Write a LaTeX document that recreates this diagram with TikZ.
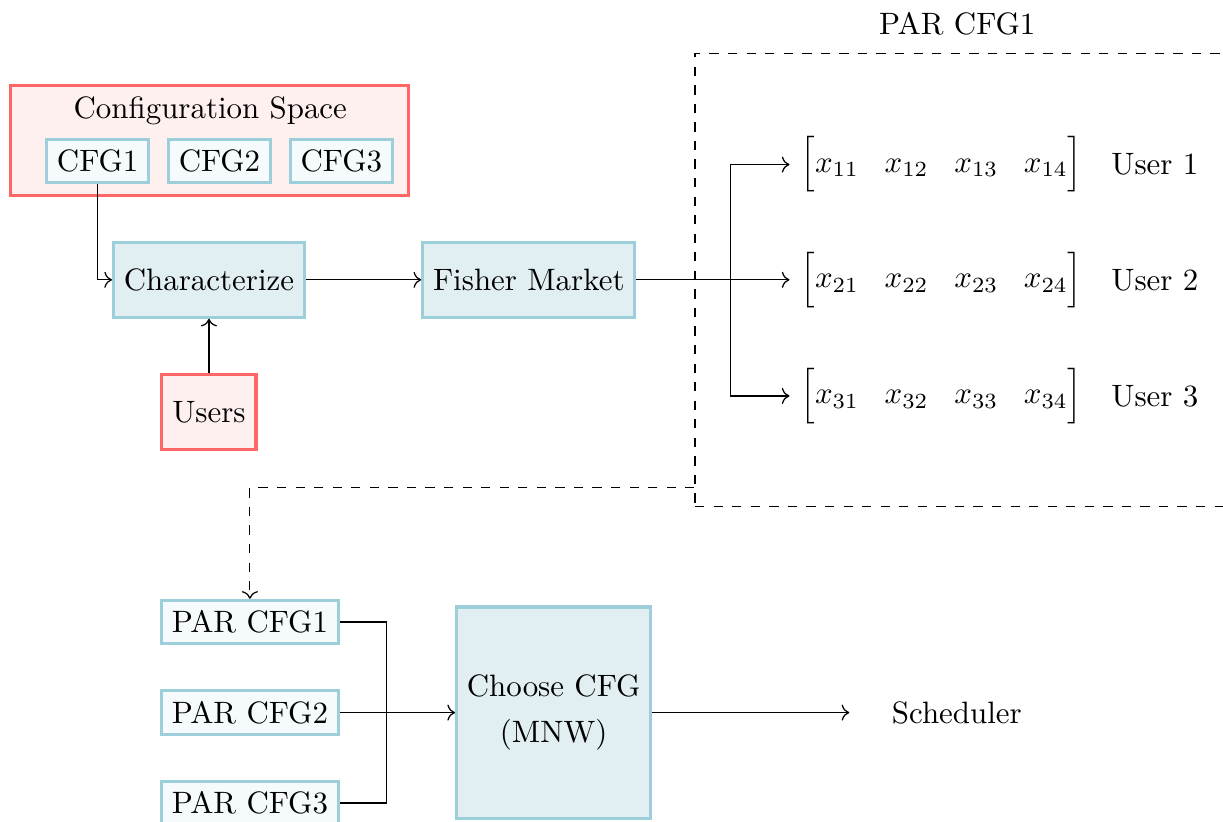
\documentclass[tikz,border=0pt]{standalone}
\usepackage{tikz}
\usetikzlibrary{arrows.meta,positioning,calc}
\usepackage{xcolor}
\usepackage{amsmath}
\definecolor{cfgred}{RGB}{255,102,102}
\definecolor{cfgpink}{RGB}{255,240,240}
\definecolor{cfgblue}{RGB}{157,207,218}
\definecolor{cfgbluefill}{RGB}{225,239,243}
\definecolor{cfglight}{RGB}{245,250,252}
\newcommand{\alloc}[1]{$\Bigl[x_{#11}\mkern15mu x_{#12}\mkern15mu x_{#13}\mkern15mu x_{#14}\Bigr]$}

\begin{document}
\begin{tikzpicture}[
    node distance=1.31cm,
    box/.style={rectangle, line width=1pt, minimum height=0.85cm, align=center},
    inbox/.style={box, draw=cfgblue, fill=cfgbluefill},
    exbox/.style={box, draw=cfgred, fill=cfgpink},
    cfgbox/.style={rectangle, line width=1pt, draw=cfgblue, fill=cfglight},
    parbox/.style={rectangle, draw, dashed},
    arr/.style={->}
]
\useasboundingbox (0,0) rectangle (13.9,-9.34);

% configuration space
\node[exbox, minimum width=4.52cm, minimum height=1.25cm] (space) at (2.38,-1.6) {};
\node (spacetitle) at (2.39,-1.26) {Configuration Space};
\node[cfgbox] (cfg1) at (1.11,-1.83) {CFG1};
\node[cfgbox, right=0.19cm of cfg1] (cfg2) {CFG2};
\node[cfgbox, right=0.19cm of cfg2] (cfg3) {CFG3};

\node[inbox] (charac) at (2.375,-3.18) {Characterize};
\node[inbox, right=of charac] (fisher) {Fisher Market};
\node[exbox, below=0.62cm of charac] (users) {Users};

% allocation for one configuration
\node[parbox, minimum width=6.1cm, minimum height=5.15cm, label={[label distance=2pt, xshift=-0.07cm]above:PAR CFG1}] (par) at (10.95,-3.18) {};

\node (row1) at (10.7,-1.87) {\alloc{1}};
\node (row2) at (10.7,-3.18) {\alloc{2}};
\node (row3) at (10.7,-4.5) {\alloc{3}};
\node[right=0.08cm of row1] (user1) {User 1};
\node[right=0.08cm of row2] (user2) {User 2};
\node[right=0.08cm of row3] (user3) {User 3};

% choose among configurations
\node[cfgbox] (par1) at (2.84,-7.07) {PAR CFG1};
\node[cfgbox, below=0.5cm of par1] (par2) {PAR CFG2};
\node[cfgbox, below=0.5cm of par2] (par3) {PAR CFG3};
\node[inbox, minimum width=2.2cm, minimum height=2.4cm, right=of par2] (choose) {Choose CFG\\[3pt](MNW)};
\node[right=2.24cm of choose, minimum width=2.43cm] (sched) {Scheduler};

\draw[arr] (cfg1) |- (charac);
\draw[arr] (users) -- (charac);
\draw[arr] (charac) -- (fisher);
\draw[arr] (fisher) -- (row2);
\coordinate (branch) at ($(fisher.east)+(1.07,0)$);
\draw[arr] (branch) |- (row1);
\draw[arr] (branch) |- (row3);

\coordinate (parout) at ($(par.south west)+(0,0.22)$);
\draw[arr, dashed] (parout) -| (par1);

\draw (par1.east) -- ++(0.53,0) |- (par3.east);
\draw[arr] (par2) -- (choose);
\draw[arr] (choose) -- (sched);

\end{tikzpicture}
\end{document}
